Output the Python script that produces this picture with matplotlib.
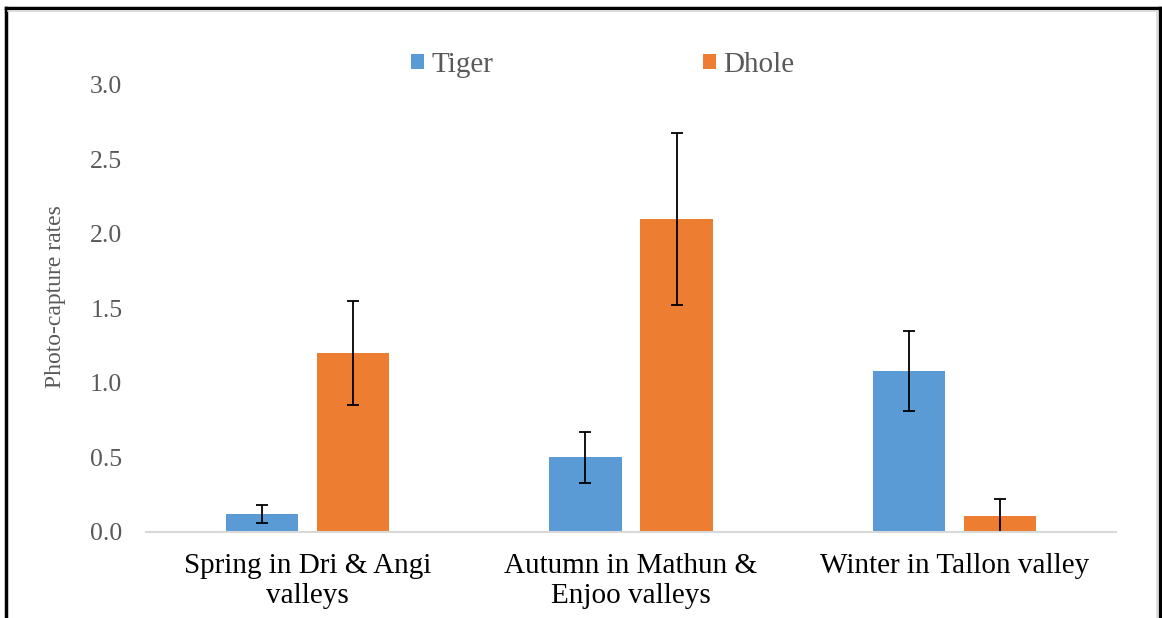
import matplotlib.pyplot as plt
import numpy as np
from matplotlib.lines import Line2D

# Photo-capture rates per season/site
categories = ["Spring in Dri & Angi\nvalleys", "Autumn in Mathun &\nEnjoo valleys", "Winter in Tallon valley"]
tiger = [0.12, 0.50, 1.08]
tiger_err = [0.06, 0.17, 0.27]
dhole = [1.20, 2.10, 0.11]
dhole_err = [0.35, 0.58, 0.11]
yticks = [0.0, 0.5, 1.0, 1.5, 2.0, 2.5, 3.0]

plt.rcParams['font.family'] = ['Liberation Serif', 'DejaVu Serif']

fig = plt.figure(figsize=(11.62, 6.18), dpi=100)
ax = fig.add_axes([0.1256, 0.1392, 0.8348, 0.7233])

x = np.arange(len(categories))
w = 0.224
off = 0.141
err_kw = dict(ecolor='black', elinewidth=1.3, capsize=4.5, capthick=1.3)
ax.bar(x - off, tiger, w, yerr=tiger_err, color='#5b9bd5', label='Tiger', error_kw=err_kw)
ax.bar(x + off, dhole, w, yerr=dhole_err, color='#ed7d31', label='Dhole', error_kw=err_kw)

ax.set_xlim(-0.5, 2.5)
ax.set_ylim(0, 3.0)
ax.set_yticks(yticks)
ax.set_yticklabels([f"{v:.1f}" for v in yticks], color='#595959', fontsize=18.5)
ax.set_xticks(x)
ax.set_xticklabels(categories, fontsize=21, color='black', linespacing=1.2)
ax.tick_params(axis='both', length=0)
ax.tick_params(axis='y', pad=17)
ax.tick_params(axis='x', pad=15)
for s in ['top', 'right', 'left']:
    ax.spines[s].set_visible(False)
ax.spines['bottom'].set_color('#d9d9d9')
ax.spines['bottom'].set_linewidth(1.5)

ax.set_ylabel('Photo-capture rates', color='#595959', fontsize=17)
ax.yaxis.set_label_coords(-0.082, 0.526)

ax.legend(loc='center', bbox_to_anchor=(0.471, 1.045), ncol=2, frameon=False,
          fontsize=21, handlelength=0.45, handleheight=0.45, handletextpad=0.25,
          columnspacing=7.2, labelcolor='#595959', borderpad=0, borderaxespad=0)

# outer frame (black) and inner light border
W, H = 1162, 618
def fx(px): return px / W
def fy(py): return 1 - py / H
fig.add_artist(Line2D([fx(6), fx(6)], [fy(8), 0], color='black', lw=2.5))
fig.add_artist(Line2D([fx(6), fx(1160)], [fy(8), fy(8)], color='black', lw=2.5))
fig.add_artist(Line2D([fx(1160), fx(1160)], [fy(8), 0], color='black', lw=2.5))
fig.add_artist(Line2D([fx(8), fx(1157)], [fy(11), fy(11)], color='#d9d9d9', lw=1.2))
fig.add_artist(Line2D([fx(1157), fx(1157)], [fy(11), 0], color='#d9d9d9', lw=1.2))

fig.savefig('out.png', dpi=100)
